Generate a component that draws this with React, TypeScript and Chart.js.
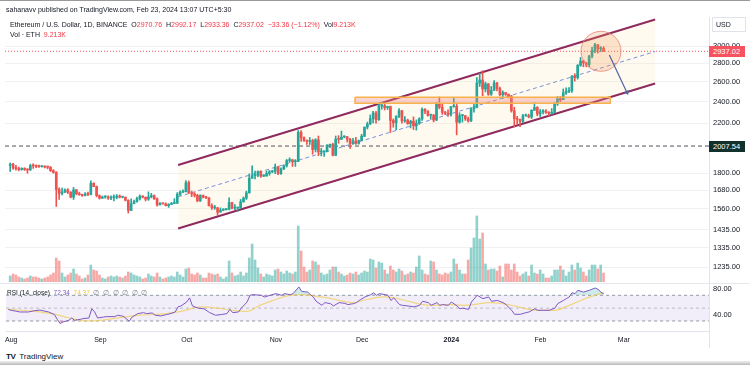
import React, { useEffect, useRef } from "react";
import { Chart, registerables } from "chart.js";

Chart.register(...registerables);

const FONT = "'Liberation Sans', Arial, sans-serif";
const GREEN = "#26a69a";
const RED = "#ef5350";
const GREEN_VOL = "rgba(38,166,154,0.5)";
const RED_VOL = "rgba(239,83,80,0.5)";

// ---- daily candles, Aug 1 2023 (day 0) .. Feb 23 2024 (day 206) ----
const firstOpen = 1857;
const closes = [
  1866, 1838, 1834, 1827, 1835, 1827, 1824, 1856, 1853, 1850, 1848, 1850, 1845, 1844, 1819, 1806, 1686, 1660, 1668, 1683, 1668, 1635, 1684, 1658, 1651, 1646, 1656, 1653, 1729, 1705, 1645,
  1628, 1636, 1636, 1629, 1632, 1634, 1642, 1635, 1635, 1615, 1550, 1592, 1606, 1624, 1642, 1635, 1622, 1637, 1645, 1624, 1585, 1594, 1592, 1580, 1588, 1594, 1596, 1653, 1668, 1671,
  1733, 1663, 1657, 1647, 1611, 1646, 1633, 1631, 1580, 1566, 1566, 1539, 1552, 1555, 1557, 1600, 1564, 1565, 1565, 1604, 1628, 1663, 1763, 1783, 1786, 1812, 1779, 1779, 1798, 1810, 1815,
  1846, 1798, 1832, 1856, 1894, 1899, 1885, 1887, 2121, 2077, 2052, 2045, 2053, 1980, 2058, 1960, 1962, 1963, 2013, 2022, 1934, 2063, 2062, 2081, 2084, 2063, 2027, 2049, 2029, 2052,
  2088, 2166, 2193, 2241, 2293, 2232, 2358, 2361, 2343, 2353, 2225, 2203, 2261, 2314, 2220, 2228, 2196, 2218, 2177, 2201, 2239, 2326, 2311, 2270, 2272, 2229, 2378, 2346, 2299, 2291, 2281,
  2352, 2355, 2209, 2268, 2268, 2240, 2221, 2330, 2344, 2585, 2617, 2524, 2577, 2472, 2511, 2587, 2529, 2467, 2489, 2470, 2453, 2313, 2241, 2234, 2217, 2267, 2268, 2256, 2317, 2344, 2283,
  2304, 2309, 2296, 2290, 2299, 2377, 2424, 2418, 2486, 2500, 2506, 2658, 2642, 2775, 2824, 2803, 2785, 2880, 2944, 3015, 2966, 2970.76, 2937.02,
];
const highs = [
  1876, 1872, 1858, 1845, 1840, 1840, 1832, 1866, 1870, 1862, 1860, 1855, 1854, 1853, 1849, 1826, 1812, 1698, 1695, 1690, 1692, 1672, 1700, 1686, 1668, 1655, 1666, 1668, 1745, 1732, 1710,
  1650, 1643, 1645, 1644, 1644, 1650, 1652, 1650, 1640, 1636, 1618, 1624, 1616, 1635, 1650, 1645, 1636, 1670, 1660, 1650, 1630, 1600, 1598, 1598, 1593, 1601, 1625, 1665, 1677, 1684,
  1747, 1745, 1675, 1665, 1654, 1651, 1650, 1640, 1632, 1592, 1582, 1570, 1566, 1561, 1562, 1630, 1602, 1587, 1570, 1620, 1637, 1675, 1795, 1855, 1815, 1818, 1818, 1790, 1815, 1820, 1820,
  1868, 1850, 1840, 1862, 1902, 1915, 1904, 1901, 2137, 2136, 2083, 2058, 2078, 2063, 2068, 2090, 1990, 1968, 2020, 2024, 2030, 2090, 2093, 2132, 2093, 2086, 2070, 2070, 2079, 2057,
  2104, 2167, 2210, 2275, 2307, 2308, 2375, 2394, 2381, 2356, 2357, 2238, 2268, 2333, 2317, 2260, 2237, 2226, 2257, 2230, 2249, 2340, 2333, 2313, 2283, 2280, 2392, 2445, 2386, 2308, 2321,
  2353, 2430, 2386, 2294, 2280, 2270, 2255, 2343, 2377, 2643, 2690, 2717, 2596, 2580, 2551, 2612, 2593, 2545, 2506, 2486, 2475, 2461, 2345, 2263, 2236, 2280, 2283, 2282, 2323, 2389, 2352,
  2325, 2323, 2325, 2306, 2333, 2390, 2450, 2450, 2525, 2536, 2538, 2665, 2684, 2785, 2865, 2833, 2810, 2890, 2984, 3032, 3018, 2992, 2992.17,
];
const lows = [
  1812, 1828, 1822, 1817, 1822, 1820, 1800, 1820, 1835, 1840, 1842, 1844, 1838, 1832, 1812, 1800, 1575, 1620, 1650, 1664, 1658, 1630, 1620, 1650, 1647, 1640, 1643, 1644, 1650, 1705, 1637,
  1622, 1626, 1628, 1620, 1618, 1610, 1624, 1630, 1630, 1610, 1534, 1548, 1594, 1602, 1616, 1630, 1610, 1614, 1630, 1620, 1577, 1584, 1589, 1578, 1569, 1586, 1593, 1594, 1646, 1664,
  1670, 1660, 1638, 1636, 1605, 1607, 1630, 1625, 1577, 1556, 1557, 1521, 1540, 1548, 1552, 1553, 1560, 1555, 1544, 1564, 1603, 1620, 1662, 1765, 1760, 1776, 1770, 1775, 1780, 1785, 1803,
  1797, 1790, 1792, 1825, 1845, 1879, 1850, 1850, 1885, 2045, 2045, 2020, 2020, 1943, 1960, 1931, 1930, 1926, 1960, 1995, 1930, 1931, 2030, 2060, 2075, 2040, 1989, 2020, 2020, 2022,
  2050, 2085, 2150, 2189, 2203, 2200, 2224, 2327, 2320, 2325, 2120, 2165, 2143, 2250, 2200, 2208, 2190, 2159, 2145, 2140, 2190, 2226, 2287, 2264, 2235, 2212, 2222, 2331, 2279, 2277, 2260,
  2263, 2346, 2100, 2200, 2210, 2225, 2210, 2215, 2300, 2340, 2550, 2457, 2495, 2460, 2460, 2509, 2505, 2456, 2430, 2460, 2436, 2300, 2168, 2194, 2170, 2203, 2262, 2248, 2242, 2317, 2266,
  2259, 2285, 2289, 2265, 2280, 2294, 2363, 2400, 2418, 2471, 2488, 2490, 2605, 2626, 2766, 2760, 2759, 2759, 2860, 2920, 2916, 2933, 2933.36,
];
// volume, K ETH
const volumes = [
  6, 8, 7, 5, 4, 3, 4, 6, 5, 5, 4, 3, 4, 5, 7, 9, 24, 21, 9, 5, 7, 9, 13, 8, 6, 3, 4, 7, 17, 12, 11,
  7, 4, 3, 5, 6, 5, 6, 5, 4, 6, 10, 9, 7, 6, 5, 3, 4, 8, 6, 5, 9, 5, 3, 4, 5, 6, 5, 10, 7, 5,
  13, 14, 8, 7, 9, 7, 4, 4, 9, 8, 7, 8, 5, 3, 5, 21, 9, 6, 7, 10, 6, 9, 24, 38, 22, 14, 8, 5, 8, 7, 6,
  12, 13, 10, 8, 11, 9, 8, 10, 56, 31, 15, 10, 12, 21, 20, 17, 9, 7, 8, 12, 15, 15, 10, 8, 6, 7, 9, 8, 10, 7,
  9, 11, 10, 23, 22, 14, 20, 19, 12, 8, 16, 12, 10, 13, 11, 7, 8, 10, 9, 15, 26, 12, 8, 7, 21, 20, 12, 8, 7, 9, 8,
  10, 23, 18, 12, 8, 8, 22, 34, 44, 66, 43, 49, 18, 12, 13, 13, 11, 16, 5, 18, 18, 12, 18, 10, 6, 8, 10, 6, 17, 9, 8,
  12, 8, 4, 4, 6, 12, 12, 16, 12, 6, 10, 17, 12, 19, 14, 10, 6, 12, 17, 17, 13, 17, 9,
];

const rsiDays = [-1, 0, 2, 3, 6, 8, 10, 11, 13, 15, 16, 17, 18, 20, 21, 22, 24, 25, 27, 28, 29, 30, 32, 33, 36, 37, 39, 41, 42, 44, 46, 47, 49, 50, 52, 54, 55, 57, 58, 59, 61, 62, 63, 65, 67, 69, 71, 73, 75, 76, 77, 79, 80, 82, 83, 84, 87, 88, 90, 92, 94, 95, 97, 98, 100, 101, 103, 105, 106, 108, 109, 111, 112, 114, 116, 117, 119, 120, 121, 123, 125, 126, 127, 128, 130, 131, 132, 133, 135, 136, 138, 140, 142, 143, 145, 146, 148, 149, 150, 152, 153, 155, 156, 157, 159, 160, 162, 163, 164, 166, 167, 169, 171, 172, 174, 175, 177, 179, 180, 182, 183, 185, 187, 189, 190, 192, 193, 194, 195, 196, 197, 199, 201, 203, 204, 205, 206];
const rsiValues = [48, 46.6, 45, 44, 44, 46, 47, 46, 44, 40, 32.6, 26, 28.5, 31, 34.7, 31, 32.6, 33.7, 34.7, 49, 44, 34.7, 36, 36.8, 36.8, 39, 37.3, 29.5, 36, 41.5, 43, 41.5, 42.5, 39, 37.8, 40, 41, 44, 52, 53.4, 59.6, 66, 53.4, 50, 49, 43, 39, 40, 41.5, 48, 43, 44, 50, 59.6, 70, 71, 70, 67.4, 70, 72.6, 70, 72.6, 71, 72.6, 83, 76, 75, 67.4, 60.7, 54.4, 58.6, 57, 53.4, 58.6, 57.5, 55.5, 57, 58.6, 62, 67.4, 71, 74, 70, 72.6, 71, 70, 62, 66, 55.5, 54.4, 53.4, 52, 54.4, 60.7, 58.6, 54.4, 58.6, 54.4, 55.5, 54.4, 59.6, 53.4, 49, 50, 48, 59.6, 70, 67.4, 64.8, 67.4, 60.7, 62, 58.6, 55.5, 46.6, 40.4, 40.4, 43, 44, 49, 46.6, 46.6, 46.6, 50, 57, 62, 64.8, 67.4, 74, 72.6, 77.8, 75, 77.8, 81.4, 79.3, 75, 72.34];
const maDays = [-1, 8, 14, 20, 26, 31, 37, 45, 54, 59, 66, 72, 77, 82, 87, 91, 96, 101, 105, 110, 114, 119, 124, 129, 133, 138, 143, 147, 152, 157, 161, 166, 171, 175, 180, 184, 189, 194, 198, 203, 206];
const maValues = [48, 45, 41.5, 35, 30, 31, 34.7, 39, 41.5, 45, 52, 50, 46.6, 45, 55.5, 62, 69, 71, 69, 66, 62, 58.6, 63.8, 67.4, 66, 60.7, 55.5, 54.4, 55.5, 54.4, 55.5, 58.6, 57, 53.4, 48, 46.6, 46.6, 54.4, 62, 70, 74.37];
const rsiLevels = [70, 50, 30];

// ---- axes ----
const xRange = [-1.8, 242.6];
const priceRange = [1162.9, 3370.6];
const rsiRange = [14.4, 87.6];
const priceTicks = [1235, 1335, 1435, 1560, 1680, 1800, 2200, 2400, 2600, 2800, 3000];
const rsiTicks = [40, 80];
const monthTicks = [0, 31, 61, 92, 122, 153, 184, 213];
const monthLabels = ["Aug", "Sep", "Oct", "Nov", "Dec", "2024", "Feb", "Mar"];

// ---- drawings ----
const lastPrice = 2937.02;
const levelLine = 2007.54;
const channelDays = [58.3, 223.9];
const channelUpper = [1860, 3337];
const channelMid = [1637, 2934];
const channelLower = [1442, 2581];
const zoneDays = [119.7, 208.3];
const zonePrices = [2383, 2442];
const circleDay = 205.1;
const circlePrice = 2937;
const arrowDays = [208.0, 214.1];
const arrowPrices = [2894, 2490];

const pts = (xs: number[], ys: number[]) => xs.map((x, i) => ({ x, y: ys[i] }));

export default function App() {
  const mainRef = useRef<HTMLCanvasElement>(null);
  const rsiRef = useRef<HTMLCanvasElement>(null);

  useEffect(() => {
    document.body.style.margin = "0";
    const opens = closes.map((c, i) => (i === 0 ? firstOpen : closes[i - 1]));
    const isUp = closes.map((c, i) => c >= opens[i]);
    const cCol = isUp.map((u) => (u ? GREEN : RED));
    const vCol = isUp.map((u) => (u ? GREEN_VOL : RED_VOL));
    const days = closes.map((_, i) => i);

    const lineBase: any = { type: "line", pointRadius: 0, tension: 0, fill: false, borderWidth: 1 };

    const main = new Chart(mainRef.current as HTMLCanvasElement, {
      type: "bar",
      data: {
        datasets: [
          {
            ...lineBase,
            data: [
              { x: channelDays[0], y: channelUpper[0] },
              { x: channelDays[1], y: channelUpper[1] },
              { x: channelDays[1], y: channelLower[1] },
              { x: channelDays[0], y: channelLower[0] },
            ],
            fill: "shape",
            backgroundColor: "rgba(255,226,160,0.16)",
            borderWidth: 0,
            borderColor: "rgba(0,0,0,0)",
            order: 100,
          },
          {
            type: "bar",
            data: days.map((d) => ({ x: d, y: volumes[d] })),
            yAxisID: "yVol",
            backgroundColor: vCol,
            barThickness: 2,
            grouped: false,
            order: 90,
          },
          {
            ...lineBase,
            data: pts(xRange, [levelLine, levelLine]),
            borderColor: "#50535e",
            borderDash: [4, 3],
            order: 80,
          },
          {
            ...lineBase,
            data: pts(xRange, [lastPrice, lastPrice]),
            borderColor: "#f7525f",
            borderDash: [1, 2],
            order: 79,
          },
          {
            ...lineBase,
            data: pts(channelDays, channelUpper),
            borderColor: "#8f2a5e",
            borderWidth: 2,
            order: 60,
          },
          {
            ...lineBase,
            data: pts(channelDays, channelLower),
            borderColor: "#8f2a5e",
            borderWidth: 2,
            order: 61,
          },
          {
            ...lineBase,
            data: pts(channelDays, channelMid),
            borderColor: "#7d8fdc",
            borderDash: [4, 3],
            order: 62,
          },
          {
            type: "bar",
            data: days.map((d) => ({ x: d, y: [lows[d], highs[d]] })),
            backgroundColor: cCol,
            barThickness: 1,
            grouped: false,
            order: 50,
          },
          {
            type: "bar",
            data: days.map((d) => ({ x: d, y: [opens[d], closes[d]] })),
            backgroundColor: cCol,
            barThickness: 2,
            minBarLength: 1,
            grouped: false,
            order: 49,
          },
          {
            ...lineBase,
            data: [
              { x: zoneDays[0], y: zonePrices[1] },
              { x: zoneDays[1], y: zonePrices[1] },
              { x: zoneDays[1], y: zonePrices[0] },
              { x: zoneDays[0], y: zonePrices[0] },
              { x: zoneDays[0], y: zonePrices[1] },
            ],
            fill: "shape",
            backgroundColor: "rgba(242,130,130,0.35)",
            borderColor: "#f6b24a",
            borderWidth: 1.5,
            order: 45,
          },
          {
            type: "scatter",
            data: [{ x: circleDay, y: circlePrice }],
            pointRadius: 20,
            pointHoverRadius: 20,
            backgroundColor: "rgba(243,150,80,0.25)",
            borderColor: "rgba(232,130,120,0.8)",
            borderWidth: 1,
            order: 40,
          },
          {
            ...lineBase,
            data: pts(arrowDays, arrowPrices),
            borderColor: "#4f64a3",
            borderWidth: 1.2,
            order: 30,
          },
          {
            type: "scatter",
            data: [{ x: arrowDays[1], y: arrowPrices[1] }],
            pointStyle: "triangle",
            pointRadius: 3,
            rotation: 155,
            backgroundColor: "#4f64a3",
            borderColor: "#4f64a3",
            borderWidth: 0,
            order: 29,
          },
        ] as any,
      },
      options: {
        responsive: false,
        animation: false,
        events: [],
        layout: { autoPadding: false, padding: { left: 5, top: 17, bottom: 5, right: 0 } },
        plugins: { legend: { display: false }, tooltip: { enabled: false } },
        scales: {
          x: { type: "linear", min: xRange[0], max: xRange[1], bounds: "data", offset: false, display: false },
          y: {
            type: "logarithmic",
            position: "right",
            min: priceRange[0],
            max: priceRange[1],
            bounds: "data",
            afterBuildTicks: (s: any) => {
              s.ticks = priceTicks.map((v) => ({ value: v }));
            },
            afterFit: (s: any) => {
              s.width = 41;
            },
            ticks: {
              autoSkip: false,
              padding: 0,
              color: "#131722",
              font: { family: FONT, size: 7.5 },
              callback: (v: any) => Number(v).toFixed(2),
            },
            grid: { color: "#f0f1f4", drawTicks: true, tickLength: 4, tickColor: "rgba(0,0,0,0)" },
            border: { display: true, color: "#e0e3eb" },
          },
          yVol: { type: "linear", display: false, min: 0, max: 265 },
        } as any,
      },
    });

    const rsi = new Chart(rsiRef.current as HTMLCanvasElement, {
      type: "line",
      data: {
        datasets: [
          {
            data: [
              { x: xRange[0], y: rsiLevels[0] },
              { x: xRange[1], y: rsiLevels[0] },
              { x: xRange[1], y: rsiLevels[2] },
              { x: xRange[0], y: rsiLevels[2] },
            ],
            fill: "shape",
            backgroundColor: "rgba(126,87,194,0.1)",
            borderWidth: 0,
            borderColor: "rgba(0,0,0,0)",
            pointRadius: 0,
            order: 100,
          },
          ...rsiLevels.map((lv, i) => ({
            data: pts(xRange, [lv, lv]),
            borderColor: i === 1 ? "rgba(120,123,134,0.45)" : "#9598a1",
            borderDash: [3, 3],
            borderWidth: 1,
            pointRadius: 0,
            fill: false,
            order: 90,
          })),
          {
            data: pts(rsiDays, rsiValues),
            borderWidth: 0,
            borderColor: "rgba(0,0,0,0)",
            pointRadius: 0,
            fill: { target: { value: 70 }, above: "rgba(38,166,154,0.22)", below: "rgba(0,0,0,0)" },
            order: 80,
          },
          {
            data: pts(rsiDays, rsiValues),
            borderWidth: 0,
            borderColor: "rgba(0,0,0,0)",
            pointRadius: 0,
            fill: { target: { value: 30 }, above: "rgba(0,0,0,0)", below: "rgba(242,54,69,0.25)" },
            order: 79,
          },
          {
            data: pts(maDays, maValues),
            borderColor: "rgba(240,205,90,0.75)",
            borderWidth: 1.2,
            pointRadius: 0,
            cubicInterpolationMode: "monotone",
            fill: false,
            order: 20,
          },
          {
            data: pts(rsiDays, rsiValues),
            borderColor: "#7e57c2",
            borderWidth: 1,
            pointRadius: 0,
            fill: false,
            order: 10,
          },
        ] as any,
      },
      options: {
        responsive: false,
        animation: false,
        events: [],
        layout: { autoPadding: false, padding: { left: 5, top: 5, bottom: 0, right: 0 } },
        plugins: { legend: { display: false }, tooltip: { enabled: false } },
        scales: {
          x: {
            type: "linear",
            min: xRange[0],
            max: xRange[1],
            bounds: "data",
            offset: false,
            afterBuildTicks: (s: any) => {
              s.ticks = monthTicks.map((v) => ({ value: v }));
            },
            afterFit: (s: any) => {
              s.height = 18;
            },
            ticks: {
              autoSkip: false,
              maxRotation: 0,
              padding: 5,
              color: "#131722",
              font: (ctx: any) => ({
                family: FONT,
                size: 7,
                weight: ctx.tick && ctx.tick.value === monthTicks[5] ? "bold" : "normal",
              }),
              callback: (v: any) => monthLabels[monthTicks.indexOf(Number(v))] ?? "",
            },
            grid: { display: true, drawOnChartArea: false, drawTicks: false },
            border: { display: true, color: "#e0e3eb" },
          },
          y: {
            type: "linear",
            position: "right",
            min: rsiRange[0],
            max: rsiRange[1],
            bounds: "data",
            afterBuildTicks: (s: any) => {
              s.ticks = rsiTicks.map((v) => ({ value: v }));
            },
            afterFit: (s: any) => {
              s.width = 41;
            },
            ticks: {
              autoSkip: false,
              padding: 0,
              color: "#131722",
              font: { family: FONT, size: 7.5 },
              callback: (v: any) => Number(v).toFixed(2),
            },
            grid: { display: true, drawOnChartArea: false, drawTicks: true, tickLength: 4, tickColor: "rgba(0,0,0,0)" },
            border: { display: true, color: "#e0e3eb" },
          },
        } as any,
      },
    });

    return () => {
      main.destroy();
      rsi.destroy();
    };
  }, []);

  const txt: React.CSSProperties = { position: "absolute", fontFamily: FONT, color: "#131722", whiteSpace: "nowrap", zIndex: 5 };
  const red = { color: "#f23645" };

  return (
    <div style={{ position: "fixed", left: 0, top: 0, width: 750, height: 365, background: "#fff", overflow: "hidden" }}>
      <div style={{ position: "absolute", left: 0, top: 0, width: 750, height: 1, background: "#9a9a9a" }} />
      <canvas ref={mainRef} width={750} height={287} style={{ position: "absolute", left: 0, top: 0, display: "block" }} />
      <canvas ref={rsiRef} width={750} height={70} style={{ position: "absolute", left: 0, top: 279, display: "block" }} />

      <div style={{ ...txt, left: 6, top: 5, fontSize: 7, lineHeight: "10px" }}>
        sahanavv published on TradingView.com, Feb 23, 2024 13:07 UTC+5:30
      </div>
      <div style={{ ...txt, left: 10, top: 20, fontSize: 7, lineHeight: "10px" }}>
        Ethereum / U.S. Dollar, 1D, BINANCE&nbsp;&nbsp;O<span style={red}>2970.76</span>&nbsp;&nbsp;H
        <span style={red}>2992.17</span>&nbsp;&nbsp;L<span style={red}>2933.36</span>&nbsp;&nbsp;C
        <span style={red}>2937.02</span>&nbsp;&nbsp;<span style={red}>−33.36 (−1.12%)</span>&nbsp;&nbsp;Vol
        <span style={red}>9.213K</span>
      </div>
      <div style={{ ...txt, left: 10, top: 30, fontSize: 7, lineHeight: "10px" }}>
        Vol · ETH&nbsp;&nbsp;<span style={red}>9.213K</span>
      </div>

      <div style={{ ...txt, left: 712, top: 17, width: 29, height: 13, border: "1px solid #e0e3eb", fontSize: 7, lineHeight: "13px", paddingLeft: 3, boxSizing: "content-box" }}>
        USD
      </div>
      <div style={{ ...txt, left: 709, top: 46, width: 36, height: 11, background: "#f7525f", color: "#fff", fontSize: 7.5, lineHeight: "11px", paddingLeft: 4, boxSizing: "border-box" }}>
        2937.02
      </div>
      <div style={{ ...txt, left: 709, top: 141, width: 36, height: 11, background: "#12302c", color: "#fff", fontSize: 7.5, lineHeight: "11px", paddingLeft: 4, boxSizing: "border-box" }}>
        2007.54
      </div>

      <div style={{ position: "absolute", left: 0, top: 283, width: 750, height: 1, background: "#e6e8ee", zIndex: 4 }} />
      <div style={{ ...txt, left: 7, top: 288, fontSize: 6.5, lineHeight: "9px" }}>
        RSI (14, close)&nbsp;&nbsp;<span style={{ color: "#7e57c2" }}>72.34</span>&nbsp;&nbsp;
        <span style={{ color: "#f0c44a" }}>74.37</span>&nbsp;&nbsp;
        <span style={{ color: "#787b86" }}>∅&nbsp;&nbsp;∅&nbsp;&nbsp;∅&nbsp;&nbsp;∅&nbsp;&nbsp;∅&nbsp;&nbsp;∅</span>
      </div>

      <div style={{ position: "absolute", left: 709, top: 331, width: 1, height: 17, background: "#e0e3eb", zIndex: 4 }} />
      <div style={{ position: "absolute", left: 0, top: 349, width: 750, height: 13, background: "#fff" }} />
      <div style={{ ...txt, left: 6, top: 351, fontSize: 8, lineHeight: "11px", fontWeight: "bold" }}>
        <span style={{ fontSize: 8, letterSpacing: -0.5 }}>TV</span>
        <span style={{ fontWeight: "normal", marginLeft: 4 }}>TradingView</span>
      </div>
      <div style={{ position: "absolute", left: 0, top: 361, width: 750, height: 4, background: "linear-gradient(#f2f2f2, #b9b9b9)" }} />
    </div>
  );
}
